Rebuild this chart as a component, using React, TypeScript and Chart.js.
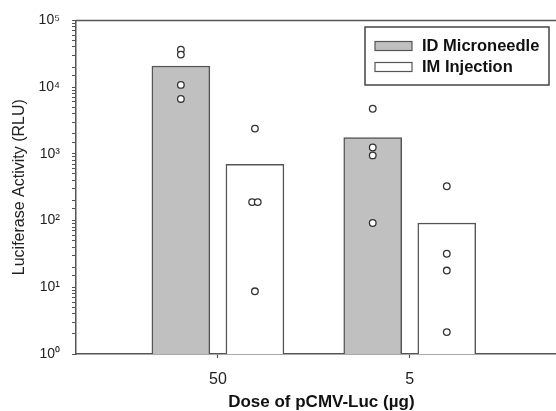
import React, { useEffect, useRef } from "react";
import { Chart, registerables } from "chart.js";

Chart.register(...registerables);

// ---- data ----
const categories = ["50", "5"];
const seriesNames = ["ID Microneedle", "IM Injection"];
const idMeans = [20700, 1755];
const imMeans = [695, 92];
const idPoints = [
  [36400, 30700, 10800, 6650],
  [4740, 1245, 947, 92],
];
const imPoints = [
  [2390, 189, 189, 8.7],
  [327, 31.8, 17.8, 2.13],
];
const yTickExponents = [0, 1, 2, 3, 4, 5];
const xTitle = "Dose of pCMV-Luc (\u00b5g)";
const yTitle = "Luciferase Activity (RLU)";

// ---- layout / style constants ----
const FONT = "'Liberation Sans', Arial, Helvetica, sans-serif";
const CANVAS_W = 572;
const CANVAS_H = 411;
const BAR_OFFSET = 0.193; // in category units
const X_MIN = -0.7396;
const X_MAX = 1.818;
const DUP_SHIFT = 0.0146;
const AXIS = "#555555";
const SUP = ["\u2070", "\u00b9", "\u00b2", "\u00b3", "\u2074", "\u2075"];

function barData(values: number[], side: number) {
  return values.map((v, i) => ({ x: i + side * BAR_OFFSET, y: v }));
}

function pointData(groups: number[][], side: number) {
  const out: { x: number; y: number }[] = [];
  groups.forEach((g, i) => {
    g.forEach((v, j) => {
      const same = g.filter((w) => w === v).length;
      const rank = g.slice(0, j).filter((w) => w === v).length;
      const shift = (rank - (same - 1) / 2) * 2 * DUP_SHIFT;
      out.push({ x: i + side * BAR_OFFSET + shift, y: v });
    });
  });
  return out;
}

const frameAndLegend = {
  id: "frameAndLegend",
  afterDraw(chart: any) {
    const { ctx, chartArea } = chart;
    ctx.save();
    // top frame line
    ctx.strokeStyle = AXIS;
    ctx.lineWidth = 1.5;
    ctx.beginPath();
    ctx.moveTo(chartArea.left, chartArea.top);
    ctx.lineTo(chartArea.right, chartArea.top);
    ctx.stroke();

    // legend box
    const bx = 365, by = 27, bw = 184, bh = 58;
    ctx.fillStyle = "#ffffff";
    ctx.fillRect(bx, by, bw, bh);
    ctx.strokeStyle = "#444444";
    ctx.lineWidth = 1.5;
    ctx.strokeRect(bx, by, bw, bh);
    const rows = [
      { y: 46, fill: chart.data.datasets[0].backgroundColor, label: chart.data.datasets[0].label },
      { y: 67, fill: chart.data.datasets[1].backgroundColor, label: chart.data.datasets[1].label },
    ];
    ctx.font = `bold 16.5px ${FONT}`;
    ctx.textBaseline = "middle";
    ctx.textAlign = "left";
    rows.forEach((r) => {
      ctx.fillStyle = r.fill;
      ctx.fillRect(375, r.y - 4.5, 37, 9);
      ctx.strokeStyle = AXIS;
      ctx.lineWidth = 1.2;
      ctx.strokeRect(375, r.y - 4.5, 37, 9);
      ctx.fillStyle = "#111111";
      ctx.fillText(r.label, 422, r.y);
    });
    ctx.restore();
  },
};

export default function App() {
  const ref = useRef<HTMLCanvasElement | null>(null);

  useEffect(() => {
    document.body.style.margin = "0";
    const canvas = ref.current;
    if (!canvas) return;
    const chart = new Chart(canvas, {
      type: "bar",
      data: {
        datasets: [
          {
            label: seriesNames[0],
            data: barData(idMeans, -1),
            backgroundColor: "#c0c0c0",
            borderColor: AXIS,
            borderWidth: 1.5,
            grouped: false,
            maxBarThickness: 58,
            barPercentage: 1,
            categoryPercentage: 1,
            order: 2,
          } as any,
          {
            label: seriesNames[1],
            data: barData(imMeans, 1),
            backgroundColor: "#ffffff",
            borderColor: AXIS,
            borderWidth: 1.5,
            grouped: false,
            maxBarThickness: 58,
            barPercentage: 1,
            categoryPercentage: 1,
            order: 2,
          } as any,
          {
            type: "scatter",
            label: seriesNames[0] + " points",
            data: pointData(idPoints, -1),
            pointRadius: 3.3,
            pointBorderWidth: 1.3,
            pointBackgroundColor: "#ffffff",
            pointBorderColor: "#333333",
            showLine: false,
            order: 1,
          } as any,
          {
            type: "scatter",
            label: seriesNames[1] + " points",
            data: pointData(imPoints, 1),
            pointRadius: 3.3,
            pointBorderWidth: 1.3,
            pointBackgroundColor: "#ffffff",
            pointBorderColor: "#333333",
            showLine: false,
            order: 1,
          } as any,
        ],
      },
      options: {
        responsive: false,
        animation: false,
        devicePixelRatio: 1,
        layout: { padding: { top: 19, left: 0, right: 0, bottom: 0 } },
        plugins: { legend: { display: false }, tooltip: { enabled: false } },
        scales: {
          x: {
            type: "linear",
            min: X_MIN,
            max: X_MAX,
            offset: false,
            afterBuildTicks: (s: any) => {
              s.ticks = categories.map((_, i) => ({ value: i }));
            },
            afterFit: (s: any) => {
              s.height = 57;
            },
            ticks: {
              autoSkip: false,
              padding: 12,
              color: "#222222",
              font: { family: FONT, size: 16 },
              callback: (_v: any, i: number) => categories[i] ?? "",
            },
            grid: { offset: false, drawOnChartArea: false, drawTicks: true, tickLength: 4, color: AXIS, tickWidth: 1.2 },
            border: { display: true, color: AXIS, width: 1.5 },
            title: {
              display: true,
              text: xTitle,
              color: "#111111",
              font: { family: FONT, size: 17, weight: "bold", lineHeight: 1 },
              padding: { top: 0, bottom: 0 },
            },
          },
          y: {
            type: "logarithmic",
            min: 1,
            max: 100000,
            afterFit: (s: any) => {
              s.width = 76;
            },
            ticks: {
              autoSkip: false,
              padding: 12,
              color: "#222222",
              font: { family: FONT, size: 14 },
              callback: (v: any) => {
                const e = Math.log10(Number(v));
                const r = Math.round(e);
                if (Math.abs(e - r) < 1e-9 && yTickExponents.includes(r)) return "10" + SUP[r];
                return "";
              },
            },
            grid: { drawOnChartArea: false, drawTicks: true, tickLength: 4, color: AXIS, tickWidth: 1 },
            border: { display: true, color: AXIS, width: 1.5 },
            title: {
              display: true,
              text: yTitle,
              color: "#222222",
              font: { family: FONT, size: 16 },
              padding: { top: 10, bottom: 0 },
            },
          },
        },
      } as any,
      plugins: [frameAndLegend],
    });
    return () => chart.destroy();
  }, []);

  return (
    <div
      style={{
        position: "fixed",
        left: 0,
        top: 0,
        width: 556,
        height: 411,
        overflow: "hidden",
        background: "#ffffff",
      }}
    >
      <canvas ref={ref} width={CANVAS_W} height={CANVAS_H} style={{ width: CANVAS_W, height: CANVAS_H, display: "block" }} />
    </div>
  );
}
